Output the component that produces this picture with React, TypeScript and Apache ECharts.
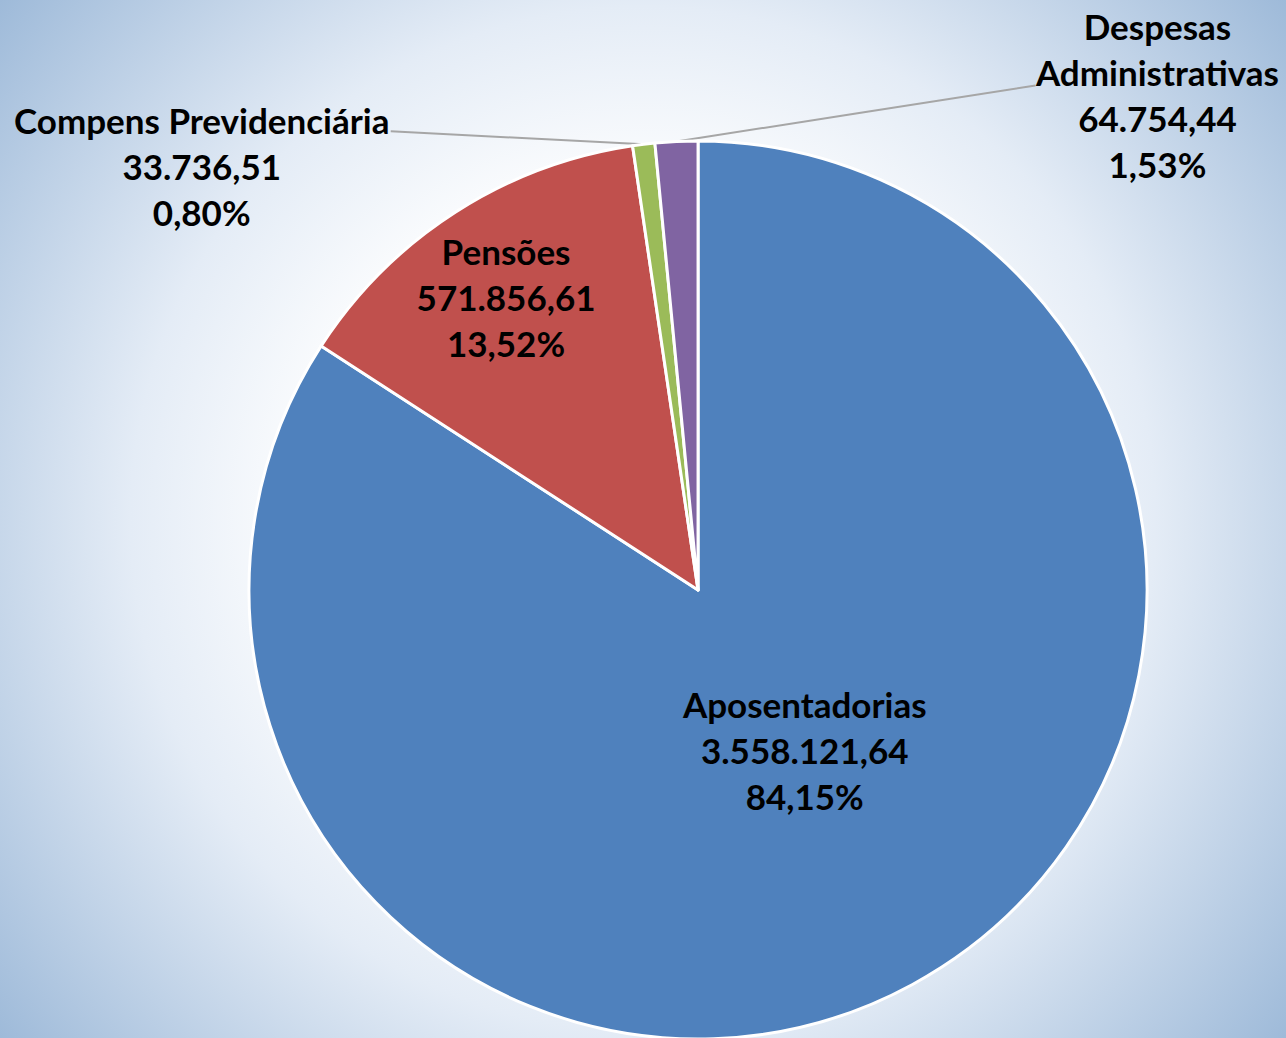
import React, { useEffect, useRef } from "react";
import * as echarts from "echarts";

const categories = ["Aposentadorias", "Pensões", "Compens Previdenciária", "Despesas Administrativas"];
const labelNames = ["Aposentadorias", "Pensões", "Compens Previdenciária", "Despesas\nAdministrativas"];
const values = [3558121.64, 571856.61, 33736.51, 64754.44];
const colors = ["#4F81BD", "#C0504D", "#9BBB59", "#8064A2"];

function fmtBR(v: number): string {
  const fixed = v.toFixed(2);
  const [ip, dp] = fixed.split(".");
  const withDots = ip.replace(/\B(?=(\d{3})+(?!\d))/g, ".");
  return withDots + "," + dp;
}

export default function App() {
  const ref = useRef<HTMLDivElement>(null);
  useEffect(() => {
    document.body.style.margin = "0";
    if (!ref.current) return;
    const chart = echarts.init(ref.current, undefined, { renderer: "svg" });
    const total = values.reduce((a, b) => a + b, 0);
    const data = categories.map((name, i) => ({
      name,
      value: values[i],
      itemStyle: { color: colors[i] },
      label: { position: i < 2 ? "inside" : "outside" },
      labelLine: { show: i >= 2 },
    }));
    chart.setOption({
      animation: false,
      series: [
        {
          type: "pie",
          center: ["54.28%", "56.84%"],
          radius: 449,
          startAngle: 90,
          clockwise: true,
          avoidLabelOverlap: false,
          data,
          itemStyle: { borderColor: "#ffffff", borderWidth: 3 },
          label: {
            show: true,
            color: "#000000",
            fontFamily: "Lato",
            fontWeight: "bold",
            fontSize: 35,
            lineHeight: 46,
            align: "center",
            formatter: (p: any) =>
              labelNames[p.dataIndex] + "\n" + fmtBR(p.value) + "\n" + ((p.value / total) * 100).toFixed(2).replace(".", ",") + "%",
          },
          labelLine: {
            show: true,
            length: 10,
            length2: 10,
            lineStyle: { color: "#a6a6a6", width: 2 },
          },
          labelLayout: (params: any) => {
            const i = params.dataIndex;
            if (i === 0) return { dx: -2, dy: -40 };
            if (i === 1) return { dx: -69, dy: -102 };
            const pts = params.labelLinePoints;
            if (!pts) return {};
            const s = pts[0];
            if (i === 2) {
              const end = [s[0] - 253, s[1] - 13];
              return {
                x: end[0] - 189,
                y: end[1] + 35,
                align: "center",
                verticalAlign: "middle",
                labelLinePoints: [s, [(s[0] + end[0]) / 2, (s[1] + end[1]) / 2], end],
              };
            }
            const end = [s[0] + 359, s[1] - 56];
            return {
              x: end[0] + 122,
              y: end[1] + 9,
              align: "center",
              verticalAlign: "middle",
              labelLinePoints: [s, [(s[0] + end[0]) / 2, (s[1] + end[1]) / 2], end],
            };
          },
        },
      ],
    });
    return () => chart.dispose();
  }, []);
  return (
    <div
      ref={ref}
      style={{
        width: 1286,
        height: 1038,
        background:
          "radial-gradient(circle farthest-corner at 50% 50%, #ffffff 0%, #ffffff 38%, #e4ecf6 62%, #9ebad9 100%)",
      }}
    />
  );
}
